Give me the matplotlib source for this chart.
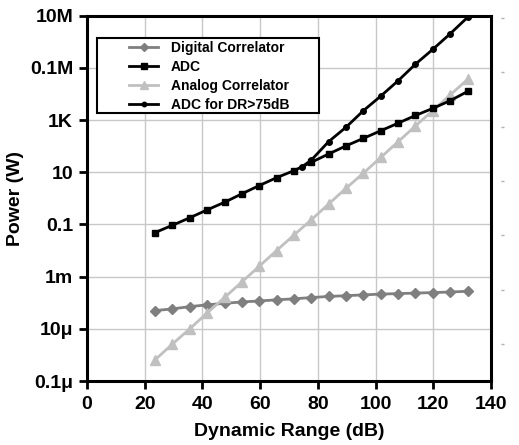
import numpy as np
import matplotlib
matplotlib.use("Agg")
import matplotlib.pyplot as plt
from matplotlib.patches import Rectangle

plt.rcParams['font.family'] = ['Liberation Sans', 'DejaVu Sans']
plt.rcParams['font.weight'] = 'bold'

# dynamic range points (dB)
dr = [23.6, 29.6, 35.6, 41.6, 47.7, 53.7, 59.7, 65.7, 71.7, 77.7,
      83.7, 89.7, 95.8, 101.8, 107.8, 113.8, 119.8, 125.8, 131.9]

digital_corr = [5.0e-5, 5.8e-5, 7.1e-5, 8.3e-5, 9.5e-5, 1.07e-4, 1.17e-4, 1.29e-4, 1.41e-4, 1.58e-4,
                1.74e-4, 1.86e-4, 2.0e-4, 2.14e-4, 2.24e-4, 2.34e-4, 2.45e-4, 2.57e-4, 2.75e-4]
adc = [0.049, 0.093, 0.18, 0.36, 0.71, 1.5, 3.1, 6.2, 11.5, 24,
       50, 102, 200, 390, 760, 1500, 2800, 5500, 12500]
analog_corr = [6.5e-7, 2.6e-6, 1.0e-5, 4.0e-5, 1.6e-4, 6.3e-4, 2.5e-3, 1.0e-2, 3.9e-2, 0.15,
               0.6, 2.4, 9.3, 37, 148, 590, 2300, 9100, 36000]

dr_hi = [74.6, 77.7, 83.7, 89.7, 95.8, 101.8, 107.8, 113.8, 119.8, 125.8, 131.9]
adc_hi = [16.5, 29, 148, 525, 2300, 8300, 32000, 138000, 510000, 2.0e6, 8.7e6]

yticks = [1e-7, 1e-5, 1e-3, 1e-1, 1e1, 1e3, 1e5, 1e7]
ylabels = ['0.1\u03bc', '10\u03bc', '1m', '0.1', '10', '1K', '0.1M', '10M']
xticks = [0, 20, 40, 60, 80, 100, 120, 140]

fig = plt.figure(figsize=(5.19, 4.45), dpi=100)
ax = fig.add_axes([0.1676, 0.1438, 0.7784, 0.8209])

ax.plot(dr, digital_corr, color='#7f7f7f', lw=2, marker='D', ms=5.5, label='Digital Correlator', zorder=3)
ax.plot(dr, adc, color='black', lw=2, marker='s', ms=5, label='ADC', zorder=4)
ax.plot(dr, analog_corr, color='#c0c0c0', lw=2, marker='^', ms=7, label='Analog Correlator', zorder=3)
ax.plot(dr_hi, adc_hi, color='black', lw=2, marker='o', ms=4, label='ADC for DR>75dB', zorder=4)

ax.set_yscale('log')
ax.set_xlim(0, 140)
ax.set_ylim(1e-7, 1e7)
ax.set_xticks(xticks)
ax.set_xticklabels([str(v) for v in xticks])
ax.set_yticks(yticks)
ax.set_yticklabels(ylabels)
ax.minorticks_off()
ax.tick_params(axis='both', which='both', direction='out', length=6, width=2, labelsize=14)
ax.tick_params(axis='x', pad=5)
ax.tick_params(axis='y', pad=4)
ax.grid(True, color='#c8c8c8', lw=1)
ax.set_axisbelow(True)
for s in ax.spines.values():
    s.set_linewidth(2.2)

ax.set_xlabel('Dynamic Range (dB)', fontsize=14, fontweight='bold', labelpad=7)
ax.set_ylabel('Power (W)', fontsize=14, fontweight='bold', labelpad=4)

# legend box drawn separately so the wide left margin matches
ax.add_patch(Rectangle((0.0248, 0.734), 0.549, 0.205, transform=ax.transAxes,
                       facecolor='white', edgecolor='black', lw=1.5, zorder=5))
leg = ax.legend(loc='upper left', bbox_to_anchor=(0.104, 0.931), borderaxespad=0,
                fontsize=10, frameon=False, handlelength=2.1, handletextpad=0.9,
                labelspacing=0.36, borderpad=0, markerscale=0.8)
leg.set_zorder(6)
for t in leg.get_texts():
    t.set_fontweight('bold')

# stray right-side ticks seen in the original
ax2 = ax.twinx()
ax2.set_ylim(-0.68, 6.04)
ax2.set_yticks([0, 1, 2, 3, 4, 5, 6])
ax2.set_yticklabels([])
ax2.spines['right'].set_position(('outward', 7))
for s in ax2.spines.values():
    s.set_visible(False)
ax2.tick_params(axis='y', length=2, width=1, color='#b0b0b0', direction='out')

fig.savefig('out.png', dpi=100)
